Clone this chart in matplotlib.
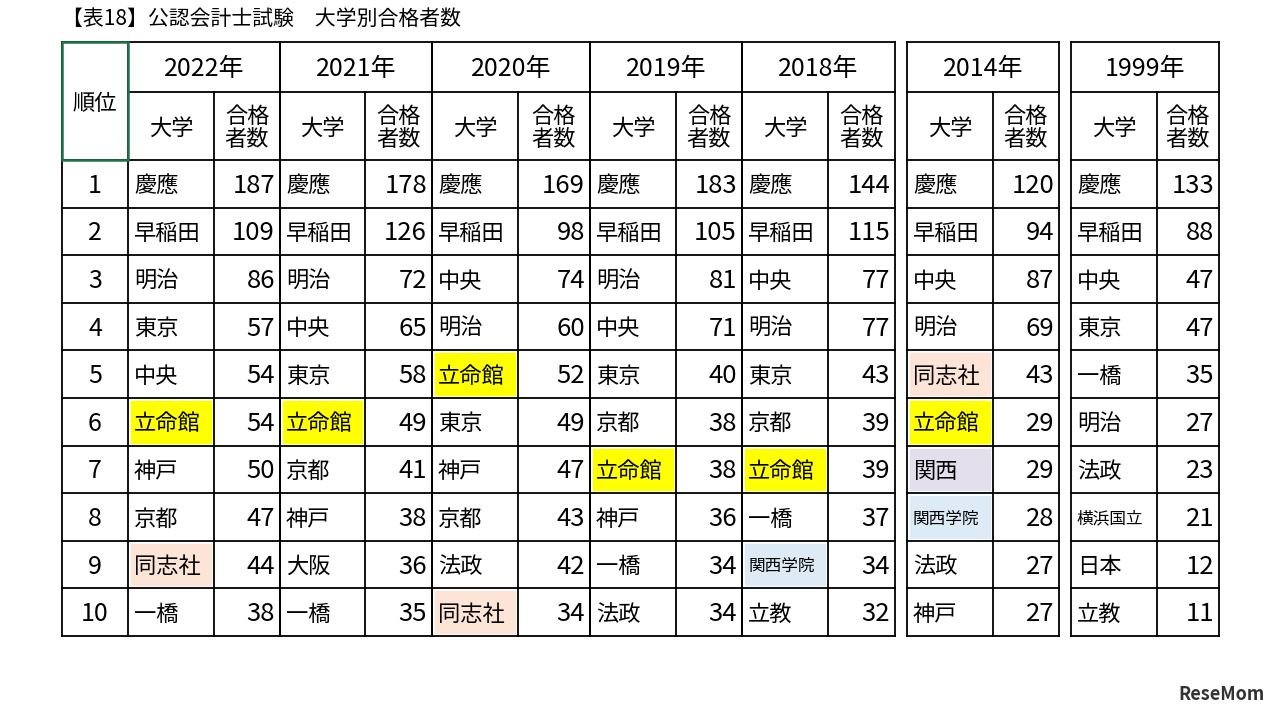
import matplotlib.pyplot as plt
from matplotlib.patches import Rectangle

plt.rcParams['font.family'] = ['Noto Sans CJK JP', 'DejaVu Sans']

title = "【表18】公認会計士試験　大学別合格者数"
years = ["2022年", "2021年", "2020年", "2019年", "2018年", "2014年", "1999年"]
ranks = [1, 2, 3, 4, 5, 6, 7, 8, 9, 10]

univ_2022 = ["慶應", "早稲田", "明治", "東京", "中央", "立命館", "神戸", "京都", "同志社", "一橋"]
cnt_2022 = [187, 109, 86, 57, 54, 54, 50, 47, 44, 38]
univ_2021 = ["慶應", "早稲田", "明治", "中央", "東京", "立命館", "京都", "神戸", "大阪", "一橋"]
cnt_2021 = [178, 126, 72, 65, 58, 49, 41, 38, 36, 35]
univ_2020 = ["慶應", "早稲田", "中央", "明治", "立命館", "東京", "神戸", "京都", "法政", "同志社"]
cnt_2020 = [169, 98, 74, 60, 52, 49, 47, 43, 42, 34]
univ_2019 = ["慶應", "早稲田", "明治", "中央", "東京", "京都", "立命館", "神戸", "一橋", "法政"]
cnt_2019 = [183, 105, 81, 71, 40, 38, 38, 36, 34, 34]
univ_2018 = ["慶應", "早稲田", "中央", "明治", "東京", "京都", "立命館", "一橋", "関西学院", "立教"]
cnt_2018 = [144, 115, 77, 77, 43, 39, 39, 37, 34, 32]
univ_2014 = ["慶應", "早稲田", "中央", "明治", "同志社", "立命館", "関西", "関西学院", "法政", "神戸"]
cnt_2014 = [120, 94, 87, 69, 43, 29, 29, 28, 27, 27]
univ_1999 = ["慶應", "早稲田", "中央", "東京", "一橋", "明治", "法政", "横浜国立", "日本", "立教"]
cnt_1999 = [133, 88, 47, 47, 35, 27, 23, 21, 12, 11]

univs = [univ_2022, univ_2021, univ_2020, univ_2019, univ_2018, univ_2014, univ_1999]
counts = [cnt_2022, cnt_2021, cnt_2020, cnt_2019, cnt_2018, cnt_2014, cnt_1999]

highlight = {"立命館": "#FFFF00", "同志社": "#FCE4D6", "関西": "#E4DFEC", "関西学院": "#DDEBF7"}

# column edges in pixels: (left, split, right)
groups = [(128, 214, 280), (280, 365, 432), (432, 518, 590), (590, 676, 742),
          (742, 828, 895), (907, 993, 1059), (1071, 1157, 1219)]
rank_l, rank_r = 62, 128
y_top, y_mid, y_hdr = 42, 92, 160
row_h = (636 - 160) / 10

fig = plt.figure(figsize=(12.8, 7.17), dpi=100)
ax = fig.add_axes([0, 0, 1, 1])
ax.set_xlim(0, 1280)
ax.set_ylim(717, 0)
ax.axis('off')

ax.text(62, 19, title, fontsize=15, va='center', ha='left')

def line(x0, y0, x1, y1, lw=1.3, c='black'):
    ax.plot([x0, x1], [y0, y1], color=c, lw=lw, solid_capstyle='projecting')

y_bot = y_hdr + 10 * row_h
dy = 2  # text sits a little low in the cells

# rank column
line(rank_l, y_top, rank_r, y_top)
line(rank_l, y_bot, rank_l, y_top)
ax.add_patch(Rectangle((rank_l, y_top), rank_r - rank_l, y_hdr - y_top, fill=False,
                       edgecolor='#217346', lw=1.8, zorder=5))
ax.text((rank_l + rank_r) / 2, 103, "順位", fontsize=16, ha='center', va='center')
for i, r in enumerate(ranks):
    yc = y_hdr + (i + 0.5) * row_h + dy
    ax.text((rank_l + rank_r) / 2, yc, str(r), fontsize=18, ha='center', va='center')
for i in range(11):
    line(rank_l, y_hdr + i * row_h, rank_r, y_hdr + i * row_h)

for g, (l, m, r) in enumerate(groups):
    line(l, y_top, r, y_top)
    line(l, y_mid, r, y_mid)
    line(l, y_top, l, y_bot)
    line(r, y_top, r, y_bot)
    line(m, y_mid, m, y_bot)
    for i in range(11):
        line(l, y_hdr + i * row_h, r, y_hdr + i * row_h)
    ax.text((l + r) / 2, (y_top + y_mid) / 2 + dy, years[g], fontsize=18, ha='center', va='center')
    ax.text((l + m) / 2, (y_mid + y_hdr) / 2 + dy, "大学", fontsize=16, ha='center', va='center')
    ax.text((m + r) / 2, (y_mid + y_hdr) / 2 + dy, "合格\n者数", fontsize=16, ha='center',
            va='center', linespacing=1.0)
    for i in range(10):
        yc = y_hdr + (i + 0.5) * row_h + dy
        u = univs[g][i]
        if u in highlight:
            ax.add_patch(Rectangle((l + 3, y_hdr + i * row_h + 3), m - l - 6, row_h - 6,
                                   color=highlight[u], zorder=0))
        fs = 12 if len(u) >= 4 else 16
        ax.text(l + 6, yc, u, fontsize=fs, ha='left', va='center')
        ax.text(r - 5, yc, str(counts[g][i]), fontsize=18.5, ha='right', va='center')

ax.text(1265, 695, "ReseMom", fontsize=13, ha='right', va='center', color='#333333',
        fontweight='bold')

fig.savefig("out.png", dpi=100)
